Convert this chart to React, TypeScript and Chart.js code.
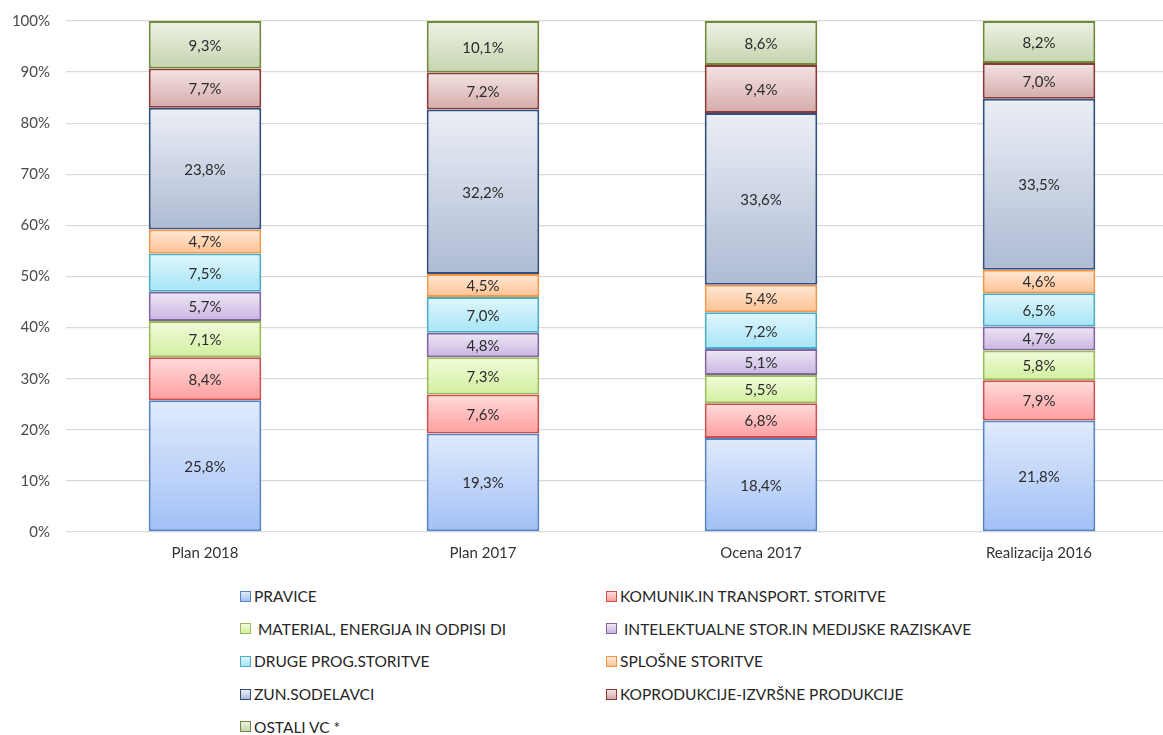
import React, { useEffect, useRef } from "react";
import { Chart, registerables } from "chart.js";

Chart.register(...registerables);

const categories = ["Plan 2018", "Plan 2017", "Ocena 2017", "Realizacija 2016"];

const seriesNames = [
  "PRAVICE",
  "KOMUNIK.IN TRANSPORT. STORITVE",
  " MATERIAL, ENERGIJA IN ODPISI DI",
  " INTELEKTUALNE STOR.IN MEDIJSKE RAZISKAVE",
  "DRUGE PROG.STORITVE",
  "SPLOŠNE STORITVE",
  "ZUN.SODELAVCI",
  "KOPRODUKCIJE-IZVRŠNE PRODUKCIJE",
  "OSTALI VC *",
];

const pravice = [25.8, 19.3, 18.4, 21.8];
const komunik = [8.4, 7.6, 6.8, 7.9];
const material = [7.1, 7.3, 5.5, 5.8];
const intelektualne = [5.7, 4.8, 5.1, 4.7];
const drugeProg = [7.5, 7.0, 7.2, 6.5];
const splosne = [4.7, 4.5, 5.4, 4.6];
const zunSodelavci = [23.8, 32.2, 33.6, 33.5];
const koprodukcije = [7.7, 7.2, 9.4, 7.0];
const ostali = [9.3, 10.1, 8.6, 8.2];

const seriesValues = [pravice, komunik, material, intelektualne, drugeProg, splosne, zunSodelavci, koprodukcije, ostali];

const yTicks = [0, 10, 20, 30, 40, 50, 60, 70, 80, 90, 100];

// [top, bottom, border]
const palette = [
  ["#e0ebfc", "#a2c0f6", "#5683c6"],
  ["#ffdcdc", "#ff9e9e", "#c9504d"],
  ["#f2fcdc", "#d2ef9e", "#9bbb59"],
  ["#efe8f6", "#c8b4e2", "#8064a2"],
  ["#e0f7fd", "#a6e4f6", "#4bacc6"],
  ["#ffe8d6", "#ffc293", "#f79646"],
  ["#ebeef5", "#aebbd4", "#2f4f7f"],
  ["#f4e4e4", "#d5abab", "#8c3836"],
  ["#eef2e6", "#c5d4ae", "#6e8a3a"],
];

const FONT = "Lato, 'Open Sans', sans-serif";

const labelPlugin = {
  id: "segLabels",
  afterDatasetsDraw(chart: any) {
    const ctx = chart.ctx;
    ctx.save();
    ctx.font = `15px ${FONT}`;
    ctx.fillStyle = "#2b2b2b";
    ctx.textAlign = "center";
    ctx.textBaseline = "middle";
    chart.data.datasets.forEach((ds: any, di: number) => {
      const meta = chart.getDatasetMeta(di);
      meta.data.forEach((el: any, i: number) => {
        const v = ds.data[i];
        const cy = (el.y + el.base) / 2;
        ctx.fillText(v.toFixed(1).replace(".", ",") + "%", el.x, cy + 1);
      });
    });
    ctx.restore();
  },
};

export default function App() {
  const ref = useRef<HTMLCanvasElement>(null);

  useEffect(() => {
    if (!ref.current) return;
    const datasets = seriesValues.map((vals, si) => ({
      label: seriesNames[si],
      data: vals,
      borderColor: palette[si][2],
      borderWidth: 2,
      borderSkipped: false,
      backgroundColor: (c: any) => {
        const chart = c.chart;
        const y = chart.scales && chart.scales.y;
        if (!chart.chartArea || !y || c.dataIndex === undefined) return palette[si][1];
        let start = 0;
        for (let k = 0; k < si; k++) start += seriesValues[k][c.dataIndex];
        const end = start + vals[c.dataIndex];
        const top = y.getPixelForValue(end);
        const bot = y.getPixelForValue(start);
        if (!isFinite(top) || !isFinite(bot) || top === bot) return palette[si][1];
        const g = chart.ctx.createLinearGradient(0, top, 0, bot);
        g.addColorStop(0, palette[si][0]);
        g.addColorStop(1, palette[si][1]);
        return g;
      },
      barPercentage: 0.405,
      categoryPercentage: 1,
    }));

    const chart = new Chart(ref.current, {
      type: "bar",
      data: { labels: categories, datasets },
      options: {
        animation: false,
        responsive: false,
        maintainAspectRatio: false,
        layout: { padding: { top: 21, right: 2, left: 0, bottom: 0 } },
        plugins: { legend: { display: false }, tooltip: { enabled: false } },
        scales: {
          x: {
            stacked: true,
            grid: { display: false, drawTicks: false },
            border: { display: false },
            ticks: { color: "#333333", font: { family: FONT, size: 15 }, padding: 12 },
            afterFit: (s: any) => { s.height = 38; },
          },
          y: {
            stacked: true,
            min: 0,
            max: 100,
            afterBuildTicks: (s: any) => { s.ticks = yTicks.map((v) => ({ value: v })); },
            grid: { color: "#d9d9d9", lineWidth: 1.3, drawTicks: false },
            border: { display: false },
            ticks: {
              color: "#4a4a4a",
              font: { family: FONT, size: 15 },
              padding: 16,
              callback: (v: any) => v + "%",
            },
            afterFit: (s: any) => {
              s.width = 66;
              s.paddingTop = 0;
              s.paddingBottom = 0;
            },
          },
        },
      },
      plugins: [labelPlugin],
    });
    return () => chart.destroy();
  }, []);

  return (
    <div style={{ position: "fixed", left: 0, top: 0, width: 1163, height: 735, overflow: "hidden", background: "#fff" }}>
      <canvas ref={ref} width={1180} height={570} style={{ position: "absolute", left: 0, top: 0, width: 1180, height: 570 }} />
      {seriesNames.map((name, si) => {
        const col = si % 2;
        const row = Math.floor(si / 2);
        return (
          <div
            key={si}
            style={{
              position: "absolute",
              left: col === 0 ? 240 : 606,
              top: 596 + row * 32.7 - 10,
              height: 20,
              display: "flex",
              alignItems: "center",
              fontFamily: FONT,
              fontSize: 15.5,
              color: "#262626",
              whiteSpace: "pre",
            }}
          >
            <span
              style={{
                display: "inline-block",
                width: 9,
                height: 9,
                border: `1.5px solid ${palette[si][2]}`,
                background: `linear-gradient(${palette[si][0]}, ${palette[si][1]})`,
                marginRight: 3,
              }}
            />
            <span>{name}</span>
          </div>
        );
      })}
    </div>
  );
}
